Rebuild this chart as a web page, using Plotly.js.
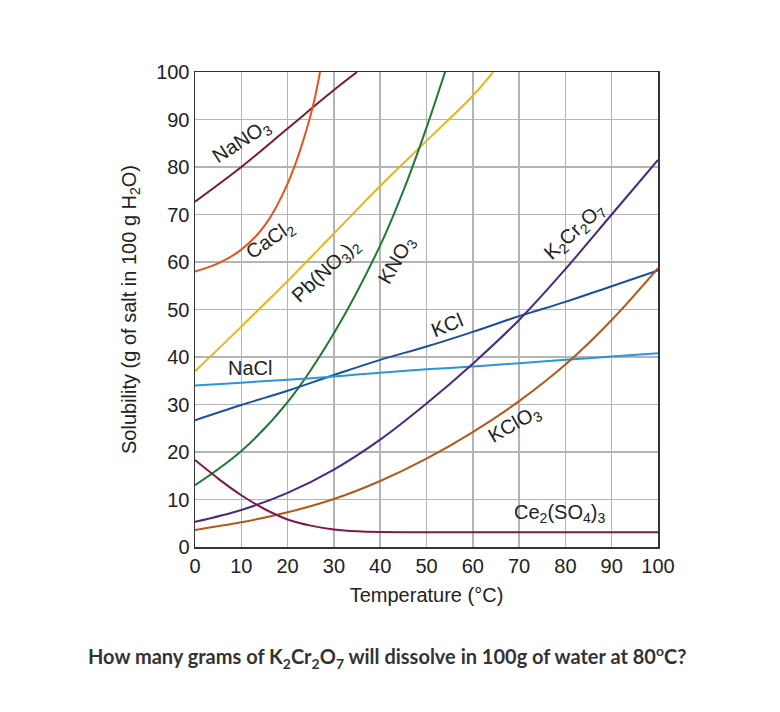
<!DOCTYPE html>
<html>
<head>
<meta charset="utf-8">
<script src="https://cdn.plot.ly/plotly-3.0.1.min.js"></script>
<style>
html,body{margin:0;padding:0;background:#fff;width:780px;height:712px;overflow:hidden;}
#chart{width:780px;height:712px;}
</style>
</head>
<body>
<div id="chart"></div>
<script>
// Temperatures (°C) and solubilities (g per 100 g H2O)
const nano3_T = [0, 10, 20, 30, 35];
const nano3_S = [72.7, 80, 88.1, 96.2, 100];

const cacl2_T = [0, 5, 10, 15, 20, 25, 27];
const cacl2_S = [58, 59.7, 62.6, 67.6, 76.5, 91, 100];

const pbno32_T = [0, 10, 20, 30, 40, 50, 60, 64.4];
const pbno32_S = [37, 46.4, 56, 66, 76, 85.5, 95, 100];

const kno3_T = [0, 10, 20, 30, 40, 45, 50, 55];
const kno3_S = [13, 20.2, 30.5, 45, 63.5, 75, 88.3, 103];

const kcl_T = [0, 10, 20, 30, 40, 50, 60, 70, 80, 90, 100];
const kcl_S = [26.7, 29.9, 32.9, 36.2, 39.4, 42.2, 45.3, 48.6, 51.6, 54.9, 58.2];

const nacl_T = [0, 10, 20, 30, 40, 50, 60, 70, 80, 90, 100];
const nacl_S = [34.0, 34.6, 35.2, 35.9, 36.7, 37.4, 38.0, 38.7, 39.4, 40.1, 40.8];

const k2cr2o7_T = [0, 10, 20, 30, 40, 50, 60, 70, 80, 90, 100];
const k2cr2o7_S = [5.3, 7.8, 11.4, 16.3, 22.6, 30.2, 38.6, 47.8, 58.5, 70, 81.5];

const kclo3_T = [0, 10, 20, 30, 40, 50, 60, 70, 80, 90, 100];
const kclo3_S = [3.6, 5.2, 7.3, 10.1, 13.9, 18.6, 24.2, 30.7, 38.4, 47.8, 58.7];

const ce2so43_T = [0, 5, 10, 15, 20, 25, 30, 35, 40, 50, 70, 100];
const ce2so43_S = [18.3, 14.4, 10.9, 8.0, 5.8, 4.5, 3.7, 3.3, 3.15, 3.1, 3.1, 3.1];

const xTicks = [0, 10, 20, 30, 40, 50, 60, 70, 80, 90, 100];
const yTicks = [0, 10, 20, 30, 40, 50, 60, 70, 80, 90, 100];

function tr(x, y, color, sm) {
  return {x: x, y: y, type: 'scatter', mode: 'lines',
          line: {color: color, width: 2, shape: 'spline', smoothing: sm || 1},
          hoverinfo: 'skip', showlegend: false};
}

const data = [
  tr(nano3_T, nano3_S, '#7e1730'),
  tr(cacl2_T, cacl2_S, '#e4521f'),
  tr(pbno32_T, pbno32_S, '#e9b41c'),
  tr(kno3_T, kno3_S, '#1f7a32'),
  tr(kcl_T, kcl_S, '#1b4f9b'),
  tr(nacl_T, nacl_S, '#2b95da'),
  tr(k2cr2o7_T, k2cr2o7_S, '#4a2a7e'),
  tr(kclo3_T, kclo3_S, '#b1591b'),
  tr(ce2so43_T, ce2so43_S, '#7d1a48', 0.7)
];

const FONT = 'Liberation Sans, Arial, sans-serif';
const lf = {family: FONT, size: 20, color: '#222'};
function lab(text, x, y, angle) {
  return {text: text, x: x, y: y, xref: 'x', yref: 'y', showarrow: false,
          textangle: angle, font: lf, xanchor: 'center', yanchor: 'middle'};
}

const layout = {
  width: 780, height: 712,
  margin: {l: 195, r: 122, t: 72, b: 165},
  paper_bgcolor: '#fff', plot_bgcolor: '#fff',
  xaxis: {
    range: [0, 100], tickvals: xTicks, ticktext: xTicks.map(String),
    showgrid: true, gridcolor: '#b4b4b4', gridwidth: 1.5,
    showline: true, linecolor: '#333', linewidth: 1.5, mirror: true,
    ticks: '', zeroline: false,
    tickfont: {family: FONT, size: 20, color: '#222'},
    title: {text: 'Temperature (°C)', standoff: 12,
            font: {family: FONT, size: 20, color: '#222'}}
  },
  yaxis: {
    range: [0, 100], tickvals: yTicks, ticktext: yTicks.map(String),
    showgrid: true, gridcolor: '#b4b4b4', gridwidth: 1.5,
    showline: true, linecolor: '#333', linewidth: 1.5, mirror: true,
    ticks: '', zeroline: false,
    tickfont: {family: FONT, size: 20, color: '#222'},
    title: {text: 'Solubility (g of salt in 100 g H<sub>2</sub>O)', standoff: 14,
            font: {family: FONT, size: 20, color: '#222'}}
  },
  annotations: [
    lab('NaNO<sub>3</sub>', 10.2, 85.3, -33),
    lab('CaCl<sub>2</sub>', 16.2, 64.6, -35),
    lab('Pb(NO<sub>3</sub>)<sub>2</sub>', 28.4, 58.3, -43),
    lab('KNO<sub>3</sub>', 43.6, 60.4, -60),
    lab('KCl', 54.4, 46.7, -22),
    lab('NaCl', 11.9, 37.6, 0),
    lab('K<sub>2</sub>Cr<sub>2</sub>O<sub>7</sub>', 82.1, 66.4, -43),
    lab('KClO<sub>3</sub>', 69.1, 25.7, -30),
    lab('Ce<sub>2</sub>(SO<sub>4</sub>)<sub>3</sub>', 78.8, 7.1, 0),
    {text: '<b>How many grams of K<sub>2</sub>Cr<sub>2</sub>O<sub>7</sub> will dissolve in 100g of water at 80<sup>o</sup>C?</b>',
     xref: 'paper', yref: 'paper', x: 0.415, y: -0.232, xanchor: 'center', yanchor: 'middle',
     showarrow: false, font: {family: 'Lato, sans-serif', size: 20, color: '#333'}}
  ]
};

Plotly.newPlot('chart', data, layout, {displayModeBar: false, staticPlot: true});
</script>
</body>
</html>
